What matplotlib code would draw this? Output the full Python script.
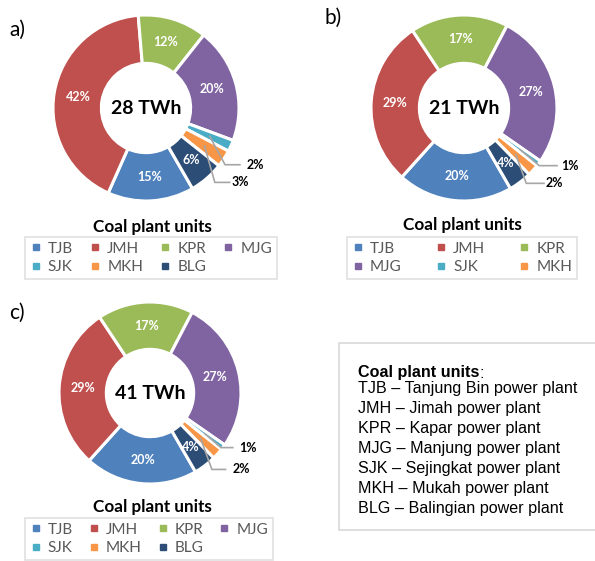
import matplotlib
matplotlib.use("Agg")
import numpy as np
import matplotlib.pyplot as plt
from matplotlib.lines import Line2D
from matplotlib.patches import Rectangle

# data
units = ['TJB', 'JMH', 'KPR', 'MJG', 'SJK', 'MKH', 'BLG']
share_a = [15, 42, 12, 20, 2, 3, 6]
share_b = [20, 29, 17, 27, 1, 2, 4]
share_c = [20, 29, 17, 27, 1, 2, 4]
totals = ['28 TWh', '21 TWh', '41 TWh']
panels = ['a)', 'b)', 'c)']
names = ['Tanjung Bin', 'Jimah', 'Kapar', 'Manjung', 'Sejingkat', 'Mukah', 'Balingian']

colors = ['#4F81BD', '#C0504D', '#9BBB59', '#8064A2', '#4BACC6', '#F79646', '#2C4D75']

W, H = 595, 561
fig = plt.figure(figsize=(W / 100, H / 100), dpi=100)
FONT = 'Lato'


def px_axes(cx, cy, r):
    return fig.add_axes([(cx - r) / W, 1 - (cy + r) / H, 2 * r / W, 2 * r / H])


def donut(cx, cy, r, vals, total, small_pos):
    ax = px_axes(cx, cy, r)
    wedges, _ = ax.pie(vals, colors=colors, startangle=-60, counterclock=False,
                       radius=1, wedgeprops=dict(width=0.52, edgecolor='white', linewidth=2.2))
    ax.set_xlim(-1, 1)
    ax.set_ylim(-1, 1)
    ax.axis('off')
    k = 0
    for w, v in zip(wedges, vals):
        mid = np.deg2rad((w.theta1 + w.theta2) / 2)
        if v >= 4:
            ax.text(0.74 * np.cos(mid), 0.74 * np.sin(mid), f'{v}%', color='white',
                    fontsize=9, fontweight='bold', ha='center', va='center', family=FONT)
        else:
            ex, ey, lx, tx = small_pos[k]
            k += 1
            sx, sy = 0.75 * np.cos(mid), 0.75 * np.sin(mid)
            ax.plot([sx, ex, lx], [sy, ey, ey], color='#A6A6A6', lw=1.2, clip_on=False)
            ax.text(tx, ey, f'{v}%', fontsize=9, fontweight='bold', ha='left', va='center',
                    family=FONT)
    ax.text(0, 0, total, fontsize=14, fontweight='bold', ha='center', va='center', family=FONT)
    return ax


donut(146, 108, 93, share_a, totals[0], [(0.85, -0.61, 1.01, 1.08), (0.74, -0.80, 0.90, 0.92)])
donut(464, 108, 93, share_b, totals[1], [(0.81, -0.62, 1.00, 1.05), (0.67, -0.81, 0.86, 0.88)])
donut(150, 393, 91, share_c, totals[2], [(0.78, -0.60, 0.91, 0.98), (0.68, -0.84, 0.83, 0.91)])

# panel letters
for (x, y), p in zip([(9, 30), (325, 18), (9, 313)], panels):
    fig.text(x / W, 1 - y / H, p, fontsize=15, ha='left', va='center', family=FONT)

# legends
handles = [Line2D([], [], marker='s', linestyle='', color=c, markersize=5) for c in colors]


def row_major(items, ncol):
    # matplotlib fills legend columns first; reorder so entries read across rows
    nrow = -(-len(items) // ncol)
    out = []
    for c in range(ncol):
        for r in range(nrow):
            i = r * ncol + c
            if i < len(items):
                out.append(items[i])
    return out


def legend(x, y, w, ncol, n, title_xy):
    fig.text(title_xy[0] / W, 1 - title_xy[1] / H, 'Coal plant units', fontsize=12.3,
             fontweight='bold', ha='center', va='center', family=FONT)
    leg = fig.legend(row_major(handles[:n], ncol), row_major(units[:n], ncol), ncol=ncol,
                     loc='upper left', bbox_to_anchor=(x / W, 1 - y / H, w / W, 0),
                     mode='expand', frameon=True, fancybox=False, edgecolor='#D9D9D9',
                     borderaxespad=0, handlelength=0.8, handletextpad=0.4, labelspacing=0.3,
                     borderpad=0.3, prop=dict(family=FONT, size=11))
    leg.get_frame().set_linewidth(1.2)
    for t in leg.get_texts():
        t.set_color('#595959')


legend(25, 237, 252, 4, 7, (152, 227))
legend(347, 237, 230, 3, 6, (462, 225))
legend(25, 518, 248, 4, 7, (152, 507))

# info box
fig.patches.append(Rectangle((339 / W, 1 - 530 / H), 270 / W, 187 / H, transform=fig.transFigure,
                             facecolor='white', edgecolor='#D9D9D9', lw=1.2))
t = fig.text(358 / W, 1 - 373 / H, 'Coal plant units', fontsize=11.6, fontweight='bold',
             ha='left', va='center', family='Liberation Sans')
fig.canvas.draw()
bb = t.get_window_extent()
fig.text(bb.x1 / W, 1 - 373 / H, ':', fontsize=11.6, ha='left', va='center',
         family='Liberation Sans')
for i, (u, n) in enumerate(zip(units, names)):
    fig.text(358 / W, 1 - (388 + i * 20) / H, f'{u} \u2013 {n} power plant', fontsize=11.6,
             ha='left', va='center', family='Liberation Sans')

fig.savefig('out.png', dpi=100)
